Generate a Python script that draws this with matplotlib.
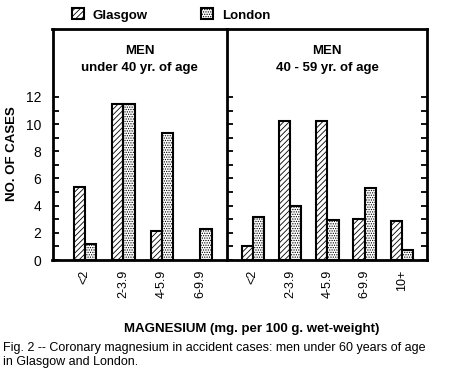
import numpy as np
import matplotlib
matplotlib.use('Agg')
from matplotlib import pyplot as plt
from matplotlib.patches import Patch

plt.rcParams['font.family'] = ['Liberation Sans', 'DejaVu Sans']
plt.rcParams['hatch.linewidth'] = 0.6

# Data
cats_young = ['<2', '2-3.9', '4-5.9', '6-9.9']
glasgow_young = [5.4, 11.45, 2.1, 0]
london_young = [1.15, 11.45, 9.35, 2.25]

cats_old = ['<2', '2-3.9', '4-5.9', '6-9.9', '10+']
glasgow_old = [1.0, 10.2, 10.2, 3.0, 2.85]
london_old = [3.15, 4.0, 2.95, 5.3, 0.7]

titles = ['MEN\nunder 40 yr. of age', 'MEN\n40 - 59 yr. of age']

W, H = 450, 377
fig = plt.figure(figsize=(W / 100, H / 100), dpi=100)

ax1 = fig.add_axes([52.5 / W, 1 - 260 / H, 174.5 / W, 231 / H])
ax2 = fig.add_axes([227 / W, 1 - 260 / H, 200 / W, 231 / H])

bar_kw = dict(edgecolor='black', linewidth=1.5, facecolor='white')
g_hatch = '//////'
l_hatch = '.......'


def draw_panel(ax, cats, g, l, title, width, xlim):
    x = np.arange(len(cats))
    g = np.asarray(g)
    l = np.asarray(l)
    # an empty class gets no bar at all
    gk = g > 0
    lk = l > 0
    ax.bar(x[gk] - width / 2, g[gk], width, hatch=g_hatch, **bar_kw)
    ax.bar(x[lk] + width / 2, l[lk], width, hatch=l_hatch, **bar_kw)
    ax.set_xlim(*xlim)
    ax.set_ylim(0, 17)
    ax.set_xticks(x)
    ax.set_xticklabels(cats, rotation=90, fontsize=9)
    ax.tick_params(axis='x', length=0, pad=7)
    ax.set_yticks(np.arange(0, 13, 1))
    ax.tick_params(axis='y', direction='in', length=4, width=1.3)
    for s in ax.spines.values():
        s.set_linewidth(2)
    ax.text(0.5, 0.93, title, transform=ax.transAxes, ha='center', va='top',
            fontsize=9.5, fontweight='bold', linespacing=1.5)


draw_panel(ax1, cats_young, glasgow_young, london_young, titles[0], 0.29, (-0.84, 3.69))
draw_panel(ax2, cats_old, glasgow_old, london_old, titles[1], 0.30, (-0.69, 4.67))

ax1.set_yticklabels([str(v) if v % 2 == 0 else '' for v in range(13)], fontsize=10)
ax1.tick_params(axis='y', pad=8)
ax1.spines['right'].set_visible(False)
ax2.tick_params(axis='y', left=True, right=True, labelleft=False)
ax1.set_ylabel('NO. OF CASES', fontsize=9.5, fontweight='bold')
ax1.yaxis.set_label_coords(-0.2, 0.46)

fig.text(252 / W, 1 - 329 / H, 'MAGNESIUM (mg. per 100 g. wet-weight)',
         ha='center', va='center', fontsize=9.5, fontweight='bold')
fig.text(3 / W, 1 - 342 / H,
         'Fig. 2 -- Coronary magnesium in accident cases: men under 60 years of age\nin Glasgow and London.',
         ha='left', va='top', fontsize=9, linespacing=1.2)

handles = [Patch(facecolor='white', edgecolor='black', hatch=g_hatch, linewidth=1.5, label='Glasgow'),
           Patch(facecolor='white', edgecolor='black', hatch=l_hatch, linewidth=1.5, label='London')]
fig.legend(handles=handles, loc='center left', bbox_to_anchor=(60 / W, 1 - 15 / H), ncol=2,
           frameon=False, handlelength=0.9, handleheight=0.9, handletextpad=0.7,
           columnspacing=4.0, prop={'weight': 'bold', 'size': 9.5})

fig.savefig('out.png', dpi=100)
